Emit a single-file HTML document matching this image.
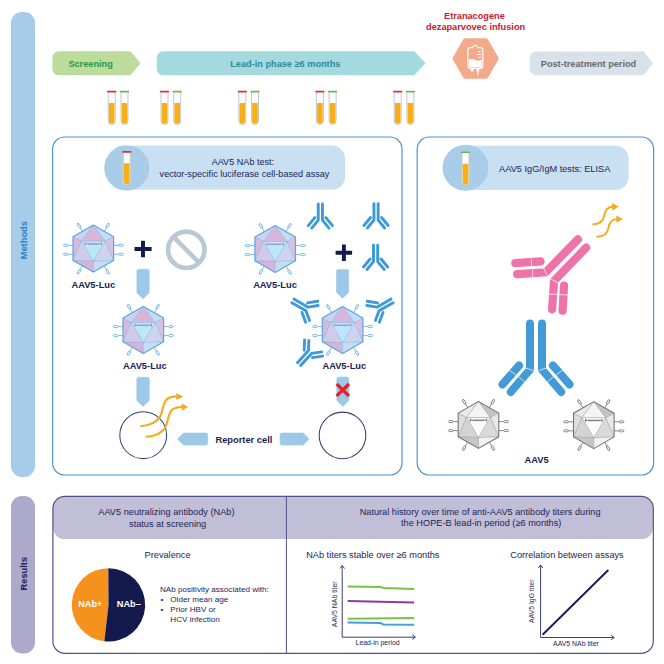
<!DOCTYPE html>
<html><head><meta charset="utf-8">
<style>
html,body{margin:0;padding:0;background:#fff;}
body{width:664px;height:664px;overflow:hidden;}
svg{display:block;}
text{font-family:"Liberation Sans",sans-serif;}
.b{font-weight:bold;}
</style></head><body>
<svg width="664" height="664" viewBox="0 0 664 664">
<defs>
  <!-- colored virus -->
  <g id="vir">
    <polygon points="0,-23.5 -11.9,-7.4 11.9,-7.4" fill="#d8b6db"/>
    <polygon points="0,-23.5 -20.3,-11.8 -11.9,-7.4" fill="#cad4ef"/>
    <polygon points="0,-23.5 20.3,-11.8 11.9,-7.4" fill="#c3ddf4"/>
    <polygon points="-20.3,-11.8 -20.3,11.8 -11.9,-7.4" fill="#d6b9dd"/>
    <polygon points="-20.3,11.8 -11.9,-7.4 0,12.6" fill="#d0cbe8"/>
    <polygon points="20.3,-11.8 20.3,11.8 11.9,-7.4" fill="#d5c2e2"/>
    <polygon points="20.3,11.8 11.9,-7.4 0,12.6" fill="#cfd4ed"/>
    <polygon points="-11.9,-7.4 11.9,-7.4 0,12.6" fill="#bfe6f8"/>
    <polygon points="-20.3,11.8 0,23.5 0,12.6" fill="#d7b3d8"/>
    <polygon points="20.3,11.8 0,23.5 0,12.6" fill="#c8dbf3"/>
    <g stroke="#66abe0" stroke-width="0.5" fill="none">
      <path d="M0,-23.5 L-11.9,-7.4 L11.9,-7.4 Z M-20.3,-11.8 L-11.9,-7.4 L-20.3,11.8 L0,12.6 L20.3,11.8 L11.9,-7.4 L20.3,-11.8 M0,12.6 L0,23.5 M-11.9,-7.4 L0,12.6 L11.9,-7.4"/>
    </g>
    <polygon points="0,-23.5 20.3,-11.8 20.3,11.8 0,23.5 -20.3,11.8 -20.3,-11.8" fill="none" stroke="#5aa6e0" stroke-width="1.2" stroke-linejoin="round"/>
    <g stroke="#5aa6e0" stroke-width="0.8" fill="#fff">
      <path d="M-20.3,-3.3 H-25 M-20.3,5.7 H-25 M20.3,-3.3 H25 M20.3,5.7 H25" fill="none"/>
      <ellipse cx="-27.6" cy="-3.3" rx="2.6" ry="1.1"/>
      <ellipse cx="-27.6" cy="5.7" rx="2.6" ry="1.1"/>
      <ellipse cx="27.6" cy="-3.3" rx="2.6" ry="1.1"/>
      <ellipse cx="27.6" cy="5.7" rx="2.6" ry="1.1"/>
      <path d="M-10.9,-17.2 L-12.9,-20.7 M10.9,-17.2 L12.9,-20.7 M-10.9,17.2 L-12.9,20.7 M10.9,17.2 L12.9,20.7" fill="none"/>
      <ellipse cx="-14.3" cy="-23.1" rx="2.6" ry="1.1" transform="rotate(60 -14.3 -23.1)"/>
      <ellipse cx="14.3" cy="-23.1" rx="2.6" ry="1.1" transform="rotate(-60 14.3 -23.1)"/>
      <ellipse cx="-14.3" cy="23.1" rx="2.6" ry="1.1" transform="rotate(-60 -14.3 23.1)"/>
      <ellipse cx="14.3" cy="23.1" rx="2.6" ry="1.1" transform="rotate(60 14.3 23.1)"/>
    </g>
    <g stroke="#8a7cc6" stroke-width="0.8" fill="none">
      <path d="M-8.2,-4.8 H8.2 M-8.2,-6.3 V-3.3 M8.2,-6.3 V-3.3"/>
      <path d="M-5.5,-4.3 H5.5" stroke-width="0.5"/>
    </g>
  </g>
  <!-- gray virus -->
  <g id="gvir">
    <polygon points="0,-23.5 -11.9,-7.4 11.9,-7.4" fill="#f4f4f4"/>
    <polygon points="0,-23.5 -20.3,-11.8 -11.9,-7.4" fill="#e9e9e9"/>
    <polygon points="0,-23.5 20.3,-11.8 11.9,-7.4" fill="#c4c4c4"/>
    <polygon points="-20.3,-11.8 -20.3,11.8 -11.9,-7.4" fill="#dedede"/>
    <polygon points="-20.3,11.8 -11.9,-7.4 0,12.6" fill="#d4d4d4"/>
    <polygon points="20.3,-11.8 20.3,11.8 11.9,-7.4" fill="#e8e8e8"/>
    <polygon points="20.3,11.8 11.9,-7.4 0,12.6" fill="#dadada"/>
    <polygon points="-11.9,-7.4 11.9,-7.4 0,12.6" fill="#fbfbfb"/>
    <polygon points="-20.3,11.8 0,23.5 0,12.6" fill="#c6c6c6"/>
    <polygon points="20.3,11.8 0,23.5 0,12.6" fill="#f2f2f2"/>
    <g stroke="#8a8a8a" stroke-width="0.5" fill="none">
      <path d="M0,-23.5 L-11.9,-7.4 L11.9,-7.4 Z M-20.3,-11.8 L-11.9,-7.4 L-20.3,11.8 L0,12.6 L20.3,11.8 L11.9,-7.4 L20.3,-11.8 M0,12.6 L0,23.5 M-11.9,-7.4 L0,12.6 L11.9,-7.4"/>
    </g>
    <polygon points="0,-23.5 20.3,-11.8 20.3,11.8 0,23.5 -20.3,11.8 -20.3,-11.8" fill="none" stroke="#707070" stroke-width="1.05" stroke-linejoin="round"/>
    <g stroke="#6a6a6a" stroke-width="0.8" fill="#fff">
      <path d="M-20.3,-3.3 H-25 M-20.3,5.7 H-25 M20.3,-3.3 H25 M20.3,5.7 H25" fill="none"/>
      <ellipse cx="-27.6" cy="-3.3" rx="2.6" ry="1.1"/>
      <ellipse cx="-27.6" cy="5.7" rx="2.6" ry="1.1"/>
      <ellipse cx="27.6" cy="-3.3" rx="2.6" ry="1.1"/>
      <ellipse cx="27.6" cy="5.7" rx="2.6" ry="1.1"/>
      <path d="M-10.9,-17.2 L-12.9,-20.7 M10.9,-17.2 L12.9,-20.7 M-10.9,17.2 L-12.9,20.7 M10.9,17.2 L12.9,20.7" fill="none"/>
      <ellipse cx="-14.3" cy="-23.1" rx="2.6" ry="1.1" transform="rotate(60 -14.3 -23.1)"/>
      <ellipse cx="14.3" cy="-23.1" rx="2.6" ry="1.1" transform="rotate(-60 14.3 -23.1)"/>
      <ellipse cx="-14.3" cy="23.1" rx="2.6" ry="1.1" transform="rotate(-60 -14.3 23.1)"/>
      <ellipse cx="14.3" cy="23.1" rx="2.6" ry="1.1" transform="rotate(60 14.3 23.1)"/>
    </g>
    <g stroke="#555" stroke-width="0.8" fill="none">
      <path d="M-8.2,-4.8 H8.2 M-8.2,-6.3 V-3.3 M8.2,-6.3 V-3.3"/>
      <path d="M-5.5,-4.3 H5.5" stroke-width="0.5"/>
    </g>
  </g>
  <!-- small antibody, junction at origin, stem up -->
  <g id="ab" fill="none" stroke="#3d9ad8" stroke-width="2.9" stroke-linecap="round" stroke-linejoin="round">
    <path d="M-2.1,-16.3 V0 L-8.6,7.9 M2.1,-16.3 V0 L8.6,7.9 M-5.5,-2.6 L-12.1,5.4 M5.5,-2.6 L12.1,5.4"/>
  </g>
  <!-- test tube, top-left cap at origin -->
  <g id="tubeR">
    <path d="M1.2,1 V30 A3.5,3.5 0 0 0 8.2,30 V1" fill="#fff" stroke="#c3c7cc" stroke-width="1"/>
    <path d="M1.9,12 H7.5 V30 A2.8,2.8 0 0 1 1.9,30 Z" fill="#f8af17"/>
    <rect x="0" y="-0.2" width="9.4" height="1.6" rx="0.8" fill="#e0313b"/>
  </g>
  <g id="tubeG">
    <path d="M1.2,1 V30 A3.5,3.5 0 0 0 8.2,30 V1" fill="#fff" stroke="#c3c7cc" stroke-width="1"/>
    <path d="M1.9,12 H7.5 V30 A2.8,2.8 0 0 1 1.9,30 Z" fill="#f8af17"/>
    <rect x="0" y="-0.2" width="9.4" height="1.6" rx="0.8" fill="#6bbb46"/>
  </g>
</defs>

<!-- side bars -->
<rect x="11" y="12" width="24" height="465" rx="11" fill="#a6cce9"/>
<rect x="11" y="496" width="24" height="157.5" rx="11" fill="#aca9ca"/>
<text class="b" transform="translate(26.7,240.2) rotate(-90)" text-anchor="middle" font-size="9.3" fill="#2a80c6">Methods</text>
<text class="b" transform="translate(26.7,573.7) rotate(-90)" text-anchor="middle" font-size="9.3" fill="#1e2156">Results</text>


<!-- timeline -->
<path d="M58.6,52.1 H130 L139.6,63.3 L130,74.5 H58.6 A5.5,5.5 0 0 1 53.1,69.0 V57.6 A5.5,5.5 0 0 1 58.6,52.1 Z" fill="#bddc9b" stroke="#bddc9b" stroke-width="1.5" stroke-linejoin="round"/>
<text class="b" x="90.6" y="66.7" text-anchor="middle" font-size="9.2" fill="#25994a">Screening</text>
<path d="M163,52.1 H414 L424.6,63.3 L414,74.5 H163 A5.5,5.5 0 0 1 157.5,69.0 V57.6 A5.5,5.5 0 0 1 163,52.1 Z" fill="#a4d9de" stroke="#a4d9de" stroke-width="1.5" stroke-linejoin="round"/>
<text class="b" x="285.3" y="66.7" text-anchor="middle" font-size="9.2" fill="#2a8c9e">Lead-in phase ≥6 months</text>
<path d="M536,52.2 H643.4 L652.2,63.3 L643.4,74.4 H536 A5.5,5.5 0 0 1 530.5,68.9 V57.7 A5.5,5.5 0 0 1 536,52.2 Z" fill="#d9e1ea" stroke="#d9e1ea" stroke-width="1.5" stroke-linejoin="round"/>
<text class="b" x="588.5" y="66.7" text-anchor="middle" font-size="9.2" fill="#6b6b6b">Post-treatment period</text>
<text class="b" x="474.4" y="19.3" text-anchor="middle" font-size="9.2" fill="#c8202f">Etranacogene</text>
<text class="b" x="475.6" y="29.8" text-anchor="middle" font-size="9.2" fill="#c8202f">dezaparvovec infusion</text>
<!-- hexagon infusion -->
<polygon points="465.35,40.85 485.85,40.85 496.1,58.6 485.85,76.35 465.35,76.35 455.1,58.6" fill="#f5a98b" stroke="#f5a98b" stroke-width="5" stroke-linejoin="round"/>
<g fill="none" stroke="#fff" stroke-width="1.2">
  <path d="M467.9,50 Q467.9,47.6 470.3,47.6 H472.5 Q473.5,45.3 475.3,45.3 Q477.1,45.3 478,47.6 H480.4 Q482.8,47.6 482.8,50 V65.9 Q482.8,68.3 480.4,68.3 H470.3 Q467.9,68.3 467.9,65.9 Z"/>
  <path d="M478,51.7 H480.8 M476.6,54.5 H480.8 M478,57.5 H480.8" stroke-width="1"/>
  <path d="M477.9,70 V75.6" stroke-width="1.1"/>
</g>
<path d="M469.1,59.6 C472,58.8 474.5,59.5 477,60.5 C478.5,61.1 480,60.5 481.7,59.8 V66 Q481.7,67.2 480.5,67.2 H470.3 Q469.1,67.2 469.1,66 Z" fill="#fff"/>
<rect x="470.8" y="68.2" width="2.7" height="3.3" rx="1.2" fill="#fff"/>
<rect x="476.6" y="68.2" width="2.6" height="3.3" rx="1.2" fill="#fff"/>
<!-- tubes -->
<use href="#tubeR" x="107" y="91"/><use href="#tubeG" x="119.8" y="91"/>
<use href="#tubeR" x="159.8" y="91"/><use href="#tubeG" x="172.5" y="91"/>
<use href="#tubeR" x="237.6" y="91"/><use href="#tubeG" x="250.3" y="91"/>
<use href="#tubeR" x="315.2" y="91"/><use href="#tubeG" x="327.9" y="91"/>
<use href="#tubeR" x="393" y="91"/><use href="#tubeG" x="405.7" y="91"/>


<!-- methods boxes -->
<rect x="52.6" y="137" width="349.4" height="338" rx="12" fill="none" stroke="#4f93d1" stroke-width="1.2"/>
<rect x="417.2" y="137" width="236.4" height="338" rx="12" fill="none" stroke="#4f93d1" stroke-width="1.2"/>
<rect x="110" y="145.6" width="235" height="44.2" rx="13" fill="#c9e0f3"/>
<circle cx="126.8" cy="168" r="22.6" fill="#a9cde9"/>
<use href="#tubeR" x="122.1" y="151.3"/>
<text x="242.9" y="165.3" text-anchor="middle" font-size="9.1" fill="#1a1e54">AAV5 NAb test:</text>
<text x="244.5" y="176.6" text-anchor="middle" font-size="9.1" fill="#1a1e54">vector-specific luciferase cell-based assay</text>
<rect x="450" y="145.7" width="178.6" height="44.3" rx="13" fill="#c9e0f3"/>
<circle cx="465.5" cy="167.8" r="23" fill="#a9cde9"/>
<use href="#tubeG" x="460.8" y="151.7"/>
<text x="554.7" y="172.3" text-anchor="middle" font-size="9.2" fill="#1a1e54">AAV5 IgG/IgM tests: ELISA</text>

<use href="#vir" x="93.3" y="248.6"/>
<use href="#vir" x="275.2" y="248.9"/>
<use href="#vir" x="143.3" y="329.9"/>
<use href="#vir" x="342.6" y="329.9"/>
<g class="b" font-size="9.3" fill="#1a1e54" text-anchor="middle">
<text x="93.3" y="287.6">AAV5-Luc</text>
<text x="275" y="287.8">AAV5-Luc</text>
<text x="144.8" y="369">AAV5-Luc</text>
<text x="344.3" y="369.1">AAV5-Luc</text>
</g>
<path d="M134.5,249 H151.6 M143,240.8 V257.3" stroke="#141a4d" stroke-width="3.9"/>
<path d="M335.6,252.8 H352.1 M343.9,244.6 V260.9" stroke="#141a4d" stroke-width="3.9"/>
<circle cx="186.3" cy="249.8" r="18.2" fill="none" stroke="#b9c8d3" stroke-width="4.6"/>
<path d="M173.4,236.9 L199.2,262.7" stroke="#b9c8d3" stroke-width="4.6"/>
<path d="M136.9,271.2 Q136.9,269.2 138.9,269.2 H147.2 Q149.2,269.2 149.2,271.2 V292.8 L143.05,298.8 L136.9,292.8 Z" fill="#9dc8e8" stroke="#9dc8e8" stroke-width="0.6" stroke-linejoin="round"/>
<path d="M136.8,379.3 Q136.8,377.3 138.8,377.3 H147.3 Q149.3,377.3 149.3,379.3 V400.4 L143.05,406.4 L136.8,400.4 Z" fill="#9dc8e8" stroke="#9dc8e8" stroke-width="0.6" stroke-linejoin="round"/>
<path d="M336.4,271.4 Q336.4,269.4 338.4,269.4 H346.7 Q348.7,269.4 348.7,271.4 V292.3 L342.55,298.3 L336.4,292.3 Z" fill="#9dc8e8" stroke="#9dc8e8" stroke-width="0.6" stroke-linejoin="round"/>
<path d="M336.8,379 Q336.8,377 338.8,377 H346.9 Q348.9,377 348.9,379 V400.4 L342.85,406.4 L336.8,400.4 Z" fill="#9dc8e8" stroke="#9dc8e8" stroke-width="0.6" stroke-linejoin="round"/>
<path d="M207.7,435 Q207.7,433 205.7,433 H183.5 L177.5,439.05 L183.5,445.1 H205.7 Q207.7,445.1 207.7,443.1 Z" fill="#9dc8e8" stroke="#9dc8e8" stroke-width="0.6" stroke-linejoin="round"/>
<path d="M280,435 Q280,433 282,433 H303.2 L309.2,439.05 L303.2,445.1 H282 Q280,445.1 280,443.1 Z" fill="#9dc8e8" stroke="#9dc8e8" stroke-width="0.6" stroke-linejoin="round"/>
<text class="b" x="243.9" y="442.6" text-anchor="middle" font-size="9.3" fill="#1a1e54">Reporter cell</text>
<circle cx="143.2" cy="435.2" r="23.4" fill="none" stroke="#3a3f73" stroke-width="1.05"/>
<circle cx="342.5" cy="435.4" r="23.3" fill="none" stroke="#3a3f73" stroke-width="1.05"/>
<path d="M336.6,384 L349,396 M349,384 L336.6,396" stroke="#e8202a" stroke-width="3.2"/>
<!-- orange arrows left -->
<g fill="none" stroke="#f6a91b" stroke-width="2.1">
<path d="M140.4,426.2 C150,425.5 157,422.3 160.3,416.3 C162.8,411.5 162.6,405.5 165.4,401 C168,397 172,396.4 177.5,396.4"/>
<path d="M145.6,436.8 C155.2,436.1 162.2,432.9 165.5,426.9 C168,422.1 167.8,416.1 170.6,411.6 C173.2,407.6 177.2,407 182.7,407"/>
</g>
<g fill="#f6a91b">
<path d="M176.4,392.9 L183,396.4 L176.4,399.9 Z"/>
<path d="M181.6,403.5 L188.2,407 L181.6,410.5 Z"/>
</g>
<!-- small antibodies -->
<use href="#ab" transform="translate(320.35,220.2)"/>
<use href="#ab" transform="translate(376.05,220.1)"/>
<use href="#ab" transform="translate(375.6,261.6)"/>
<use href="#ab" transform="translate(307,309) rotate(-60)"/>
<use href="#ab" transform="translate(378,309) rotate(60)"/>
<use href="#ab" transform="translate(310,352) rotate(222)"/>

<!-- ELISA -->
<g fill="none" stroke="#f6a91b" stroke-width="1.9">
<path d="M592.4,224.4 C599,224.4 603.3,221.5 604.2,215.5 C605,210 608,206.7 613,206.7"/>
<path d="M596.6,236.8 C603.2,236.8 607.5,233.9 608.4,227.9 C609.2,222.4 612.2,219.1 617.2,219.1"/>
</g>
<g fill="#f6a91b">
<path d="M612.2,203 L618.6,206.7 L612.2,210.4 Z"/>
<path d="M616.4,215.4 L622.8,219.1 L616.4,222.8 Z"/>
</g>
<g fill="none" stroke="#429bd6" stroke-width="8" stroke-linecap="round" stroke-linejoin="miter">
<path d="M530,323.4 V369.5 L510.8,391.9"/>
<path d="M542,323.4 V369.5 L561.2,391.9"/>
<path d="M519.1,365.5 L502.5,384.4"/>
<path d="M552.9,365.5 L569.5,384.4"/>
</g>
<g fill="none" stroke="#fff" stroke-width="0.8" opacity="0.9">
<path d="M525.8,368.1 L534.5,370.9 M537.5,370.9 L546.2,368.1 M509.5,370.3 L516.3,375.1 M562.5,370.3 L555.7,375.1 M518.5,376.7 L524.6,381.8 M553.5,376.7 L547.4,381.8"/>
</g>
<g fill="none" stroke="#ef73a9" stroke-width="8.2" stroke-linecap="round" stroke-linejoin="miter">
<path d="M577.9,239.4 L545.6,272.3 L517.2,274.2"/>
<path d="M586.1,247.7 L554,281 L552.1,309.3"/>
<path d="M515.3,263.1 L540.5,261.3"/>
<path d="M564,285.6 L562.6,310.7"/>
</g>
<g fill="none" stroke="#fff" stroke-width="0.8" opacity="0.9">
<path d="M531.3,258.6 L531.6,267.6 M532.5,269.6 L532.8,278.8 M543.8,268.2 L547.1,275.6 M550.2,278.9 L557.8,282.5 M547.8,294 L557.2,294.4 M559.2,294.6 L568.4,295"/>
</g>
<use href="#gvir" x="478.5" y="424.9"/>
<use href="#gvir" x="593.8" y="425.1"/>
<text class="b" x="536.6" y="463" text-anchor="middle" font-size="9.35" fill="#1a1e54">AAV5</text>


<!-- results -->
<path d="M65.5,496.3 H641.5 A11.5,11.5 0 0 1 653,507.8 V527.5 A11.5,11.5 0 0 1 641.5,539 H64.5 A11.5,11.5 0 0 1 53,527.5 V507.8 A11.5,11.5 0 0 1 65.5,496.3 Z" fill="#c1bed7"/>
<rect x="52.9" y="496.3" width="600.4" height="157" rx="12" fill="none" stroke="#4f5386" stroke-width="1.2"/>
<path d="M286.4,496.3 V653" stroke="#4f5386" stroke-width="1"/>
<g font-size="9.2" fill="#1d2556" text-anchor="middle">
<text x="166.4" y="515.2">AAV5 neutralizing antibody (NAb)</text>
<text x="167.6" y="526.5">status at screening</text>
<text x="167.6" y="557.7">Prevalence</text>
<text x="480.1" y="515.2">Natural history over time of anti-AAV5 antibody titers during</text>
<text x="481.2" y="526.2">the HOPE-B lead-in period (≥6 months)</text>
<text x="372.8" y="557.8">NAb titers stable over ≥6 months</text>
<text x="567" y="557.8">Correlation between assays</text>
</g>
<path d="M108.5,604.9 L108.30,568.20 A36.7,36.7 0 0 0 104.30,641.36 Z" fill="#f5921e"/>
<path d="M108.5,604.9 L108.30,568.20 A36.7,36.7 0 1 1 104.30,641.36 Z" fill="#141a4d"/>
<g class="b" font-size="9.2" fill="#fff" text-anchor="middle">
<text x="90.3" y="606.5">NAb+</text>
<text x="128.8" y="606.5">NAb–</text>
</g>
<g font-size="8.1" fill="#1d2556">
<text x="160" y="591.5">NAb positivity associated with:</text>
<text x="160.5" y="601.7">•</text><text x="170.3" y="601.7">Older mean age</text>
<text x="160.5" y="611.7">•</text><text x="170.3" y="611.7">Prior HBV or</text>
<text x="170.3" y="622">HCV infection</text>
</g>
<!-- chart 1 -->
<g fill="none" stroke="#3a3f73" stroke-width="1">
<path d="M342.2,565.5 V637.2 H415.3"/>
<path d="M339.9,568.5 L342.2,565.5 L344.5,568.5 M412.3,634.9 L415.3,637.2 L412.3,639.5"/>
</g>
<g fill="none" stroke-width="2">
<path d="M347.6,586.4 L380.8,587.1 L383.3,587.9 L414,588.9" stroke="#7cc243"/>
<path d="M347.6,601 L414,602.5" stroke="#8e3a96"/>
<path d="M347.6,618.8 L414,618" stroke="#7cc243"/>
<path d="M347.6,622.6 L380.8,623.1 L383.3,624.4 L414,624.7" stroke="#3fa0dc"/>
</g>
<g font-size="6.9" fill="#1d2556">
<text x="377.6" y="645.4" text-anchor="middle">Lead-in period</text>
<text transform="translate(336.7,604.3) rotate(-90)" text-anchor="middle">AAV5 NAb titer</text>
<text x="576" y="645.6" text-anchor="middle">AAV5 NAb titer</text>
<text transform="translate(533.5,601.3) rotate(-90)" text-anchor="middle">AAV5 IgG titer</text>
</g>
<g fill="none" stroke="#3a3f73" stroke-width="1">
<path d="M540.6,565 V637.5 H614.2"/>
<path d="M538.3,568 L540.6,565 L542.9,568 M611.2,635.2 L614.2,637.5 L611.2,639.8"/>
</g>
<path d="M542.6,634.8 L608.3,570" stroke="#1a1f55" stroke-width="2"/>

</svg>
</body></html>
